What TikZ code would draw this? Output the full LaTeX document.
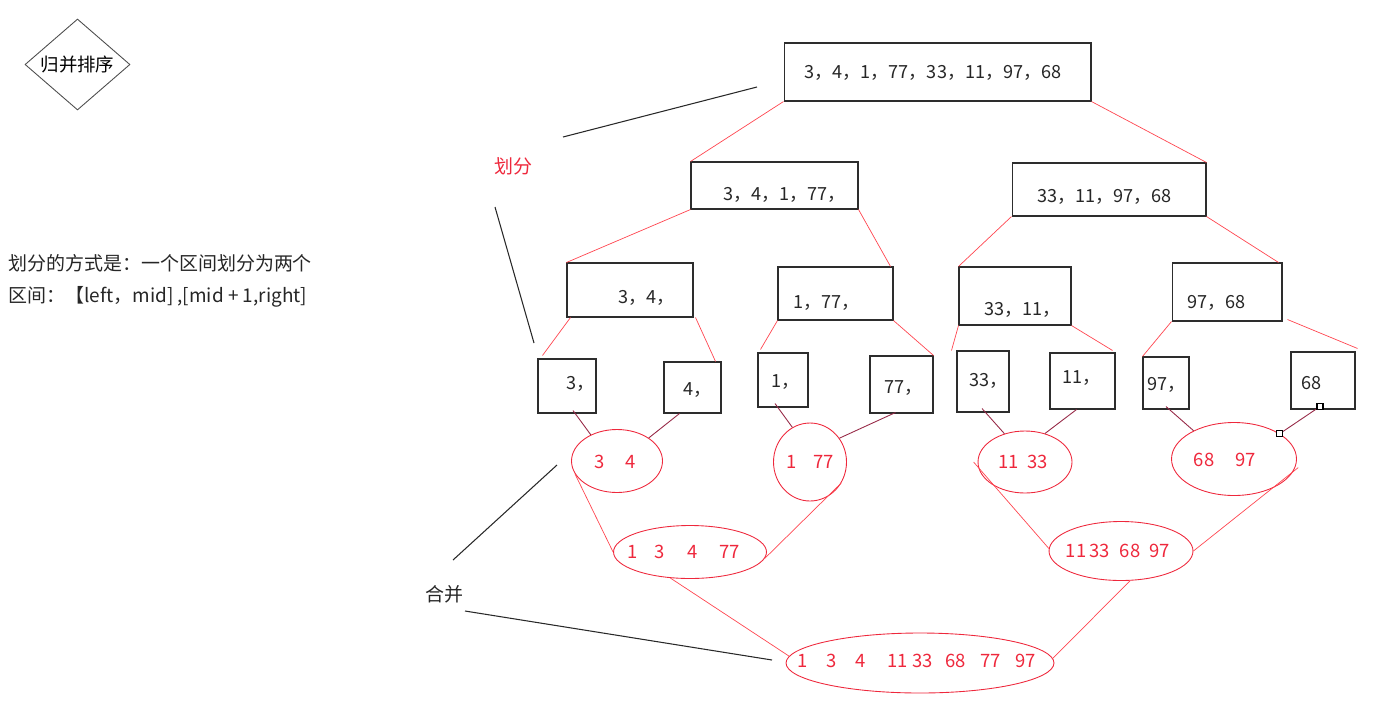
\documentclass[tikz,border=0pt]{standalone}
\usepackage{fontspec}
\setmainfont{Noto Sans CJK SC}
\usetikzlibrary{shapes.geometric,calc}
\definecolor{boxline}{RGB}{45,45,45}
\definecolor{redline}{RGB}{255,70,80}
\definecolor{ellred}{RGB}{238,40,60}
\definecolor{darkred}{RGB}{150,40,70}
\definecolor{notegray}{RGB}{40,40,40}
\begin{document}
\begin{tikzpicture}[x=0.02cm, y=-0.02cm,
  font=\fontsize{10.3}{12}\selectfont,
  box/.style={draw=boxline, line width=0.6pt, inner sep=0pt},
  num/.style={anchor=west, inner sep=0pt, text=black!85},
  ell/.style={ellipse, draw=ellred, line width=0.5pt, inner sep=0pt},
  etxt/.style={inner sep=0pt, text=ellred, font=\fontsize{10.5}{12}\selectfont},
  splitln/.style={draw=redline, line width=0.4pt},
  mergeln/.style={draw=darkred, line width=0.5pt},
  noteln/.style={draw=notegray, line width=0.6pt},
  handle/.style={draw=black, fill=white, line width=0.6pt, minimum size=0.12cm, inner sep=0pt}
]
\useasboundingbox (0,0) rectangle (1389,707);

% title diamond
\node[diamond, draw=black!70, line width=0.5pt, inner sep=0pt, minimum width=2.1cm, minimum height=1.78cm,
  font=\fontsize{10.5}{12}\selectfont] (title) at (77.5,64.5) {归并排序};

% explanation
\node[anchor=west, inner sep=0pt, font=\fontsize{10.8}{13}\selectfont, text=black!85] (exp1) at (8,263) {划分的方式是：一个区间划分为两个};
\node[anchor=west, inner sep=0pt, font=\fontsize{10.8}{13}\selectfont, text=black!85] (exp2) at (8,297) {区间：【left，mid] ,[mid + 1,right]};

% level 1
\node[box, minimum width=6.14cm, minimum height=1.16cm] (T) at (937.5,72) {};
\node[num] (Tt) at (804,73) {3，4，1，77，33，11，97，68};

% level 2
\node[box, minimum width=3.34cm, minimum height=0.94cm] (A) at (774.5,185.5) {};
\node[num] (At) at (723,195) {3，4，1，77，};
\node[box, minimum width=3.88cm, minimum height=1.06cm] (B) at (1109,189.5) {};
\node[num] (Bt) at (1037,197) {33，11，97，68};

% level 3
\node[box, minimum width=2.52cm, minimum height=1.08cm] (C) at (630,290) {};
\node[num] (Ct) at (618,298) {3，4，};
\node[box, minimum width=2.30cm, minimum height=1.06cm] (D) at (835.5,293.5) {};
\node[num] (Dt) at (793,303) {1，77，};
\node[box, minimum width=2.24cm, minimum height=1.16cm] (E) at (1015,296) {};
\node[num] (Et) at (984,310) {33，11，};
\node[box, minimum width=2.20cm, minimum height=1.16cm] (F) at (1227,292) {};
\node[num] (Ft) at (1187,303) {97，68};

% level 4
\node[box, minimum width=1.16cm, minimum height=1.08cm] (B3) at (567,386) {};
\node[num] (B3t) at (566,384) {3，};
\node[box, minimum width=1.14cm, minimum height=1.02cm] (B4) at (692.5,387.5) {};
\node[num] (B4t) at (683,390) {4，};
\node[box, minimum width=1.0cm, minimum height=1.08cm] (B1) at (783,380) {};
\node[num] (B1t) at (771,382) {1，};
\node[box, minimum width=1.26cm, minimum height=1.14cm] (B77) at (901.5,384.5) {};
\node[num] (B77t) at (884,388) {77，};
\node[box, minimum width=1.04cm, minimum height=1.22cm] (B33) at (983,381.5) {};
\node[num] (B33t) at (969,381) {33，};
\node[box, minimum width=1.30cm, minimum height=1.12cm] (B11) at (1082.5,381) {};
\node[num] (B11t) at (1062,378) {11，};
\node[box, minimum width=0.92cm, minimum height=1.04cm] (B97) at (1166,383) {};
\node[num] (B97t) at (1147,385) {97，};
\node[box, minimum width=1.28cm, minimum height=1.14cm] (B68) at (1323,380.5) {};
\node[num] (B68t) at (1301,383) {68};

% ellipses level 5
\node[ell, minimum width=1.82cm, minimum height=1.26cm] (E34) at (617,461) {};
\node[etxt] (E34t) at (615,462) {3\hspace{1.15em}4};
\node[ell, minimum width=1.46cm, minimum height=1.56cm] (E177) at (810,462) {};
\node[etxt] (E177t) at (810,462) {1\hspace{0.9em}77};
\node[ell, minimum width=1.88cm, minimum height=1.24cm] (E1133) at (1025,462) {};
\node[etxt] (E1133t) at (1023,462) {11\hspace{0.45em}33};
\node[ell, minimum width=2.50cm, minimum height=1.46cm] (E6897) at (1234,459) {};
\node[etxt] (E6897t) at (1225,460) {68\hspace{1.15em}97};

% level 6
\node[ell, minimum width=3.06cm, minimum height=1.06cm] (E1347) at (690,552) {};
\node[etxt] (E1347t) at (684,552) {1\hspace{0.9em}3\hspace{1.2em}4\hspace{1.2em}77};
\node[ell, minimum width=2.88cm, minimum height=1.18cm] (E2) at (1121,551) {};
\node[etxt] (E2t) at (1118,551) {11\hspace{0.15em}33\hspace{0.55em}68\hspace{0.5em}97};

% level 7
\node[ell, minimum width=5.36cm, minimum height=1.20cm] (EF) at (920,663) {};
\node[etxt] (EFt) at (917,661) {1\hspace{1em}3\hspace{1em}4\hspace{1.2em}11\hspace{0.25em}33\hspace{0.65em}68\hspace{0.8em}77\hspace{0.8em}97};

% split connectors
\draw[splitln] (T.south west) -- (A.north west);
\draw[splitln] (T.south east) -- (B.north east);
\draw[splitln] (A.south west) -- (C.north west);
\draw[splitln] (A.south east) -- ($(D.north east)+(-3,0)$);
\draw[splitln] (B.south west) -- (E.north west);
\draw[splitln] (B.south east) -- ($(F.north east)+(-4,0)$);
\draw[splitln] ($(C.south west)+(4,0)$) -- ($(B3.north west)+(5,-3)$);
\draw[splitln] ($(C.south east)+(2,0)$) -- ($(B4.north east)+(-6,0)$);
\draw[splitln] (D.south west) -- ($(B1.north west)+(3,-3)$);
\draw[splitln] (D.south east) -- (B77.north east);
\draw[splitln] (E.south west) -- ($(B33.north west)+(-5,0)$);
\draw[splitln] (E.south east) -- ($(B11.north east)+(-3,-2)$);
\draw[splitln] (F.south west) -- (B97.north west);
\draw[splitln] ($(F.south east)+(5,-2)$) -- ($(B68.north east)+(2,-3)$);

% box -> ellipse connectors
\draw[mergeln] ($(B3.south)+(6,-3)$) -- (E34.135);
\draw[mergeln] ($(B4.south)+(-13,0)$) -- (E34.36);
\draw[mergeln] ($(B1.south)+(-8,-4)$) -- (E177.117);
\draw[mergeln] ($(B77.south)+(-6,-1)$) -- (E177.39);
\draw[mergeln] ($(B33.south)+(-1,-4)$) -- (E1133.126);
\draw[mergeln] ($(B11.south)+(-6,0)$) -- (E1133.55);
\draw[mergeln] ($(B97.south)+(0,-3)$) -- (E6897.145);
\draw[mergeln] ($(B68.south)+(-3,-3)$) -- (E6897.29);
\node[handle] (h1) at ($(B68.south)+(-3,-3)$) {};
\node[handle] (h2) at (E6897.29) {};

% ellipse -> ellipse connectors
\draw[splitln] (E34.197) -- (E1347.180);
\draw[splitln] (E177.326) -- (E1347.355);
\draw[splitln] ($(E1133.west)+(-4,0)$) -- (E2.178);
\draw[splitln] ($(E6897.352)+(3,0)$) -- (E2.east);
\draw[splitln] (E1347.233) -- (EF.177);
\draw[splitln] (E2.287) -- (EF.2);

% notes
\node[inner sep=0pt, text=ellred, font=\fontsize{10.8}{13}\selectfont] (hf) at (513,166) {划分};
\coordinate (hf1a) at (563,137);
\coordinate (hf1b) at (757,87);
\coordinate (hf2a) at (495,207);
\coordinate (hf2b) at (534,343);
\draw[noteln] (hf1a) -- (hf1b);
\draw[noteln] (hf2a) -- (hf2b);

\node[inner sep=0pt, text=black!85, font=\fontsize{10.8}{13}\selectfont] (hb) at (444,594) {合并};
\coordinate (hb1a) at (453,560);
\coordinate (hb1b) at (557,465);
\coordinate (hb2a) at (465,611);
\coordinate (hb2b) at (772,660);
\draw[noteln] (hb1a) -- (hb1b);
\draw[noteln] (hb2a) -- (hb2b);
\end{tikzpicture}
\end{document}
